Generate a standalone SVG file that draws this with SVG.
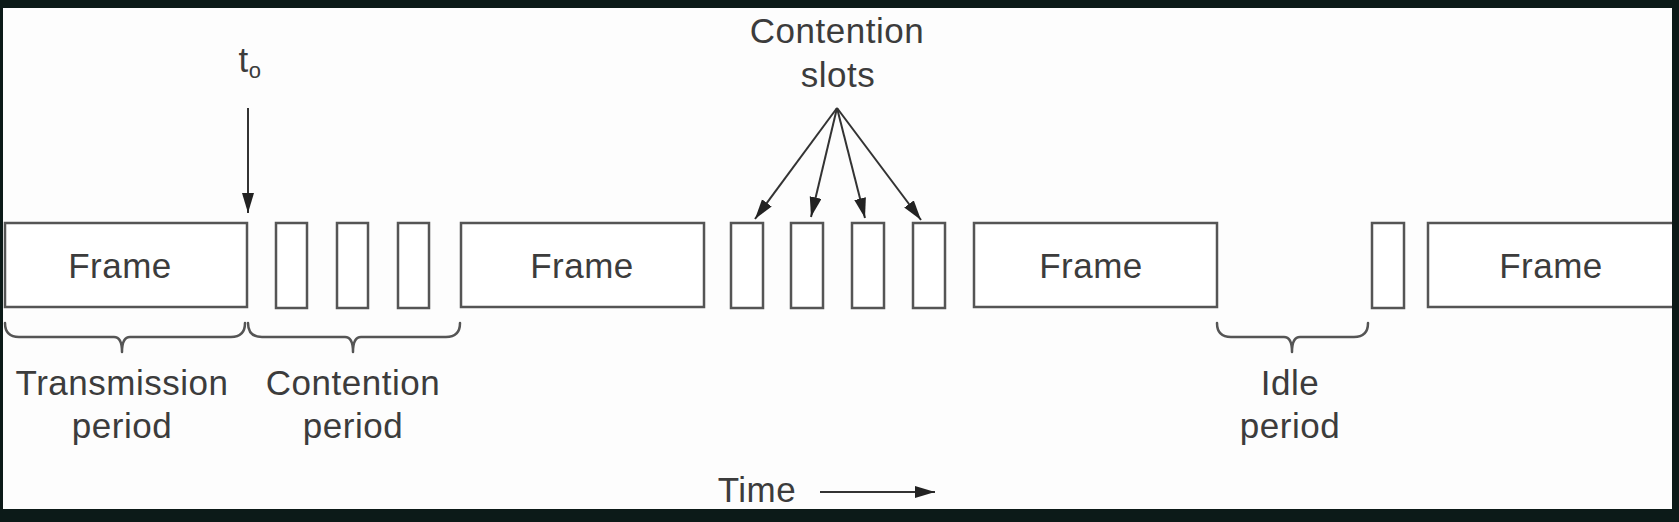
<svg xmlns="http://www.w3.org/2000/svg" width="1679" height="522" viewBox="0 0 1679 522">
<style>
.box{fill:#ffffff;stroke:#555;stroke-width:2.5}
.brace{fill:none;stroke:#555;stroke-width:2.5;stroke-linecap:round;stroke-linejoin:round}
.conn{fill:none;stroke:#333;stroke-width:2}
.lbl{font-family:"Liberation Sans",Arial,sans-serif;font-size:35px;fill:#3c3c3c;text-anchor:middle;letter-spacing:0.5px}
</style>
<defs>
<marker id="ah" markerUnits="userSpaceOnUse" markerWidth="22" markerHeight="14" refX="20" refY="6" orient="auto">
<path d="M0,0 L20,6 L0,12 Z" fill="#222"/>
</marker>
</defs>
<rect x="0" y="0" width="1679" height="522" fill="#0c1a18"/>
<rect x="3" y="8" width="1669" height="501" fill="#fdfdfd"/>

<g id="frame1"><rect class="box" x="5" y="223" width="242" height="84"/><text class="lbl" x="120" y="278">Frame</text></g>
<g id="slot1"><rect class="box" x="276" y="223" width="31" height="85"/></g>
<g id="slot2"><rect class="box" x="337" y="223" width="31" height="85"/></g>
<g id="slot3"><rect class="box" x="398" y="223" width="31" height="85"/></g>
<g id="frame2"><rect class="box" x="461" y="223" width="243" height="84"/><text class="lbl" x="582" y="278">Frame</text></g>
<g id="slot4"><rect class="box" x="731" y="223" width="32" height="85"/></g>
<g id="slot5"><rect class="box" x="791" y="223" width="32" height="85"/></g>
<g id="slot6"><rect class="box" x="852" y="223" width="32" height="85"/></g>
<g id="slot7"><rect class="box" x="913" y="223" width="32" height="85"/></g>
<g id="frame3"><rect class="box" x="974" y="223" width="243" height="84"/><text class="lbl" x="1091" y="278">Frame</text></g>
<g id="slot8"><rect class="box" x="1372" y="223" width="32" height="85"/></g>
<g id="frame4"><path class="box" d="M1672,223 H1428 V307 H1672"/><text class="lbl" x="1551" y="278">Frame</text></g>

<g id="t0"><text class="lbl" x="250" y="72">t<tspan font-size="22" dy="6">o</tspan></text></g>
<g id="contention-slots-label"><text class="lbl" x="837" y="43">Contention</text><text class="lbl" x="838" y="87">slots</text></g>

<g id="transmission-period">
<path class="brace" d="M5,323 Q5,337 19,337 L114,337 Q122,337 122,352 Q122,337 130,337 L231,337 Q245,337 245,323"/>
<text class="lbl" x="122" y="395">Transmission</text><text class="lbl" x="122" y="438">period</text>
</g>
<g id="contention-period">
<path class="brace" d="M248,323 Q248,337 262,337 L345,337 Q353,337 353,352 Q353,337 361,337 L446,337 Q460,337 460,323"/>
<text class="lbl" x="353" y="395">Contention</text><text class="lbl" x="353" y="438">period</text>
</g>
<g id="idle-period">
<path class="brace" d="M1217,323 Q1217,337 1231,337 L1284,337 Q1292,337 1292,352 Q1292,337 1300,337 L1354,337 Q1368,337 1368,323"/>
<text class="lbl" x="1290" y="395">Idle</text><text class="lbl" x="1290" y="438">period</text>
</g>
<g id="time"><text class="lbl" x="757" y="502">Time</text></g>

<g id="connectors">
<line class="conn" x1="248" y1="108" x2="248" y2="213" marker-end="url(#ah)"/>
<line class="conn" x1="837" y1="108" x2="755" y2="219" marker-end="url(#ah)"/>
<line class="conn" x1="837" y1="108" x2="811" y2="217" marker-end="url(#ah)"/>
<line class="conn" x1="837" y1="108" x2="865" y2="218" marker-end="url(#ah)"/>
<line class="conn" x1="837" y1="108" x2="921" y2="220" marker-end="url(#ah)"/>
<line class="conn" x1="820" y1="492" x2="935" y2="492" marker-end="url(#ah)"/>
</g>
</svg>
